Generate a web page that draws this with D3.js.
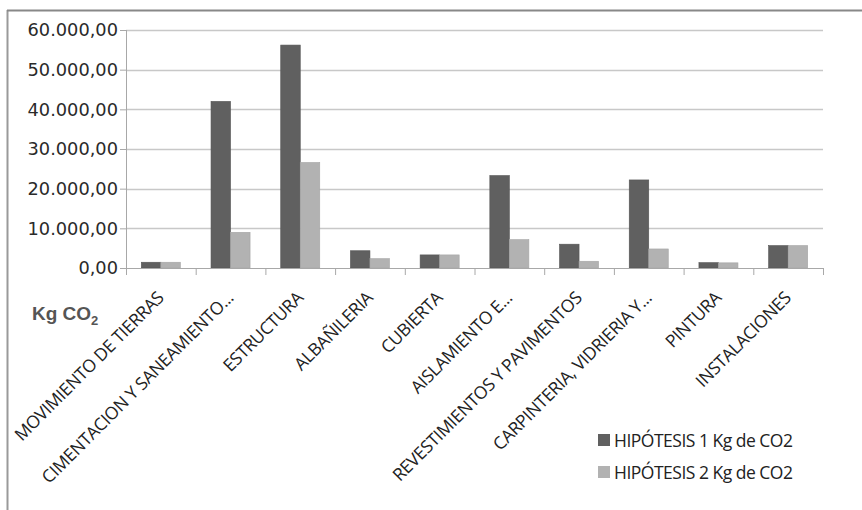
<!DOCTYPE html>
<html><head><meta charset="utf-8">
<script src="https://cdn.jsdelivr.net/npm/d3@7"></script>
<style>body{margin:0;background:#fff}svg{display:block}</style>
</head><body>
<svg id="c" width="862" height="510"></svg>
<script>
const categories = ["MOVIMIENTO DE TIERRAS","CIMENTACION Y SANEAMIENTO...","ESTRUCTURA","ALBAÑILERIA","CUBIERTA","AISLAMIENTO E...","REVESTIMIENTOS Y PAVIMENTOS","CARPINTERIA, VIDRIERIA Y...","PINTURA","INSTALACIONES"];
const seriesNames = ["HIPÓTESIS 1 Kg de CO2","HIPÓTESIS 2 Kg de CO2"];
const hip1 = [1450, 42000, 56200, 4350, 3300, 23300, 6000, 22200, 1350, 5650];
const hip2 = [1450, 9000, 26600, 2350, 3300, 7150, 1700, 4800, 1300, 5650];
const yTicks = [0,10000,20000,30000,40000,50000,60000];
const colors = ["#606060","#b2b2b2"];

const svg = d3.select("#c");
const L = 126, R = 823, T = 30, B = 268;

// frame
svg.append("line").attr("x1",7.5).attr("x2",7.5).attr("y1",10).attr("y2",510).attr("stroke","#9a9a9a").attr("stroke-width",2);
svg.append("line").attr("x1",7).attr("x2",862).attr("y1",10.5).attr("y2",10.5).attr("stroke","#888").attr("stroke-width",2);

const x0 = d3.scaleBand().domain(categories).range([L,R]).paddingInner(0.44).paddingOuter(0.22);
const x1 = d3.scaleBand().domain(seriesNames).range([0,x0.bandwidth()]);
const y = d3.scaleLinear().domain([0,60000]).range([B,T]);

const fmt = v => d3.format(",.2f")(v).replace(/,/g,"#").replace(/\./g,",").replace(/#/g,".");

// gridlines
svg.append("g").selectAll("line").data(yTicks.filter(d=>d>0)).join("line")
  .attr("x1",L).attr("x2",R).attr("y1",d=>Math.round(y(d))+0.5).attr("y2",d=>Math.round(y(d))+0.5)
  .attr("stroke","#c8c8c8").attr("stroke-width",1.5);

// y axis
const ya = svg.append("g").attr("transform",`translate(${L},0)`)
  .call(d3.axisLeft(y).tickValues(yTicks).tickFormat(fmt).tickSize(6).tickPadding(3));
ya.select(".domain").attr("stroke","#a8a8a8").attr("d",`M0.5,${T}V${B}`);
ya.selectAll(".tick line").attr("stroke","#a8a8a8").attr("x1",0);
ya.selectAll(".tick text").attr("font-family","DejaVu Sans").attr("font-size",17.8).attr("fill","#2a2a2a").attr("x",-8);

// bars
const data = categories.map((c,i)=>({c, vals:[hip1[i],hip2[i]]}));
const g = svg.append("g").selectAll("g").data(data).join("g").attr("transform",d=>`translate(${x0(d.c)},0)`);
g.selectAll("rect").data(d=>d.vals.map((v,j)=>({v,s:seriesNames[j],j}))).join("rect")
  .attr("x",d=>x1(d.s)).attr("width",x1.bandwidth())
  .attr("y",d=>y(d.v)).attr("height",d=>B-y(d.v))
  .attr("fill",d=>colors[d.j]).attr("stroke",d=>d.j?"#a5a5a5":"#555").attr("stroke-width",0.6);

// x axis
const step = x0.step();
const xa = svg.append("g").attr("transform",`translate(0,${B})`)
  .call(d3.axisBottom(x0).tickSize(0).tickFormat(""));
xa.select(".domain").attr("stroke","#a8a8a8").attr("d",`M${L},0.5H${R}`);
const tickPos = d3.range(categories.length+1).map(i=>L+i*step);
xa.append("g").selectAll("line").data(tickPos).join("line")
  .attr("x1",d=>d+0.5).attr("x2",d=>d+0.5).attr("y1",0).attr("y2",7).attr("stroke","#a8a8a8");

// category labels
svg.append("g").selectAll("text").data(categories).join("text")
  .attr("transform",d=>`translate(${x0(d)+x0.bandwidth()/2+4},${B+31}) rotate(-45)`)
  .attr("text-anchor","end").attr("font-family","Open Sans").attr("font-size",17.5)
  .attr("fill","#222").attr("letter-spacing","-0.35").text(d=>d);

// unit label
const kg = svg.append("text").attr("x",32).attr("y",320).attr("font-family","Liberation Sans")
  .attr("font-weight","bold").attr("font-size",19).attr("fill","#555");
kg.append("tspan").text("Kg CO");
kg.append("tspan").attr("font-size",13).attr("dy",5).text("2");

// legend
const lg = svg.append("g").selectAll("g").data(seriesNames).join("g")
  .attr("transform",(d,i)=>`translate(598,${440+i*32})`);
lg.append("rect").attr("x",0).attr("y",-6).attr("width",12).attr("height",12).attr("fill",(d,i)=>colors[i]);
lg.append("text").attr("x",16).attr("y",6.5).attr("font-family","Open Sans").attr("font-size",17.5)
  .attr("fill","#222").attr("letter-spacing","-0.5").text(d=>d);
</script>
</body></html>
